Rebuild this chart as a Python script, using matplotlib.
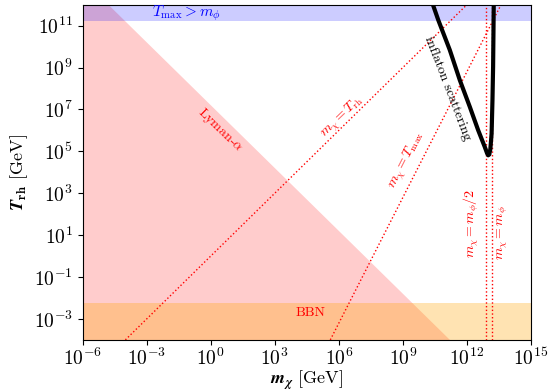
import numpy as np
import matplotlib
matplotlib.use('Agg')
import matplotlib.pyplot as plt
from matplotlib.ticker import FixedLocator, NullLocator

plt.rcParams['font.family'] = 'serif'
plt.rcParams['font.serif'] = ['cmr10']
plt.rcParams['mathtext.fontset'] = 'cm'
plt.rcParams['axes.formatter.use_mathtext'] = True

# axis ranges (GeV)
m_lim = [1e-6, 1e15]
T_lim = [1e-4, 1e12]

# horizontal bands
T_bbn = 5.5e-3        # BBN bound on T_rh
T_tmax = 1.6e11       # above this T_max > m_phi

# Lyman-alpha boundary
lyman_T = [1e-4, 1e12]
lyman_m = [1.6e11, 1.6e-5]

# m_chi = T_rh and m_chi = T_max lines
trh_T = [1e-4, 1e12]
trh_m = [1e-4, 1e12]
tmax_T = [1e-4, 1e12]
tmax_m = [4e5, 4e13]

# inflaton mass
m_phi = 1.5e13

scat_logm = [10.41, 10.66, 11.20, 11.67, 12.14, 12.53, 12.84, 12.95, 13.00,
             13.05, 13.10, 13.16, 13.20, 13.23, 13.26]
scat_logT = [12.0, 11.27, 9.84, 8.40, 7.12, 6.01, 5.21, 4.90, 4.81,
             4.85, 5.10, 5.85, 7.44, 9.04, 12.0]

xticks = [1e-6, 1e-3, 1e0, 1e3, 1e6, 1e9, 1e12, 1e15]
yticks = [1e-3, 1e-1, 1e1, 1e3, 1e5, 1e7, 1e9, 1e11]

fig, ax = plt.subplots(figsize=(5.49, 3.92), dpi=100)
fig.subplots_adjust(left=0.1506, right=0.967, top=0.988, bottom=0.133)

ax.set_xscale('log')
ax.set_yscale('log')

# shaded regions
ax.fill_betweenx(lyman_T, m_lim[0], lyman_m, color='red', alpha=0.2, lw=0)
ax.axhspan(T_tmax, T_lim[1], color='blue', alpha=0.2, lw=0)
ax.axhspan(T_lim[0], T_bbn, color='orange', alpha=0.3, lw=0)

# dotted lines
ax.plot(trh_m, trh_T, 'r:', lw=1)
ax.plot(tmax_m, tmax_T, 'r:', lw=1)
ax.axvline(m_phi / 2, color='red', ls=':', lw=1)
ax.axvline(m_phi, color='red', ls=':', lw=1)

# inflaton scattering
ax.plot(10**np.array(scat_logm), 10**np.array(scat_logT), 'k-', lw=3,
        solid_capstyle='butt')

# labels
fs = 10
ax.text(10**-1.16, 10**11.6, r'$T_{\rm max} > m_\phi$', color='blue',
        fontsize=11, ha='center', va='center')
ax.text(10**0.43, 10**6.01, r'Lyman-$\alpha$', color='red', fontsize=fs,
        ha='center', va='center', rotation=-44)
ax.text(10**6.19, 10**6.63, r'$m_\chi = T_{\rm rh}$', color='red', fontsize=fs,
        ha='center', va='center', rotation=44)
ax.text(10**9.19, 10**4.57, r'$m_\chi = T_{\rm max}$', color='red', fontsize=fs,
        ha='center', va='center', rotation=63)
ax.text(10**11.07, 10**8.02, 'inflaton scattering', color='black', fontsize=fs,
        ha='center', va='center', rotation=-69)
ax.text(10**12.22, 10**1.56, r'$m_\chi = m_\phi/2$', color='red', fontsize=fs,
        ha='center', va='center', rotation=90)
ax.text(10**13.69, 10**1.13, r'$m_\chi = m_\phi$', color='red', fontsize=fs,
        ha='center', va='center', rotation=90)
ax.text(10**4.70, 10**-2.70, 'BBN', color='red', fontsize=fs,
        ha='center', va='center')

ax.set_xlim(m_lim)
ax.set_ylim(T_lim)
ax.xaxis.set_major_locator(FixedLocator(xticks))
ax.yaxis.set_major_locator(FixedLocator(yticks))
ax.xaxis.set_minor_locator(NullLocator())
ax.yaxis.set_minor_locator(NullLocator())
ax.tick_params(labelsize=14)
ax.tick_params(axis='x', pad=2)

ax.set_xlabel(r'$\mathbfit{m}_{\mathbfit{\chi}}$ [GeV]', fontsize=13)
ax.set_ylabel(r'$\mathbfit{T}_{\mathbf{rh}}$ [GeV]', fontsize=13)
ax.xaxis.set_label_coords(0.5, -0.087)
ax.yaxis.set_label_coords(-0.118, 0.5)

fig.savefig('out.png', dpi=100)
